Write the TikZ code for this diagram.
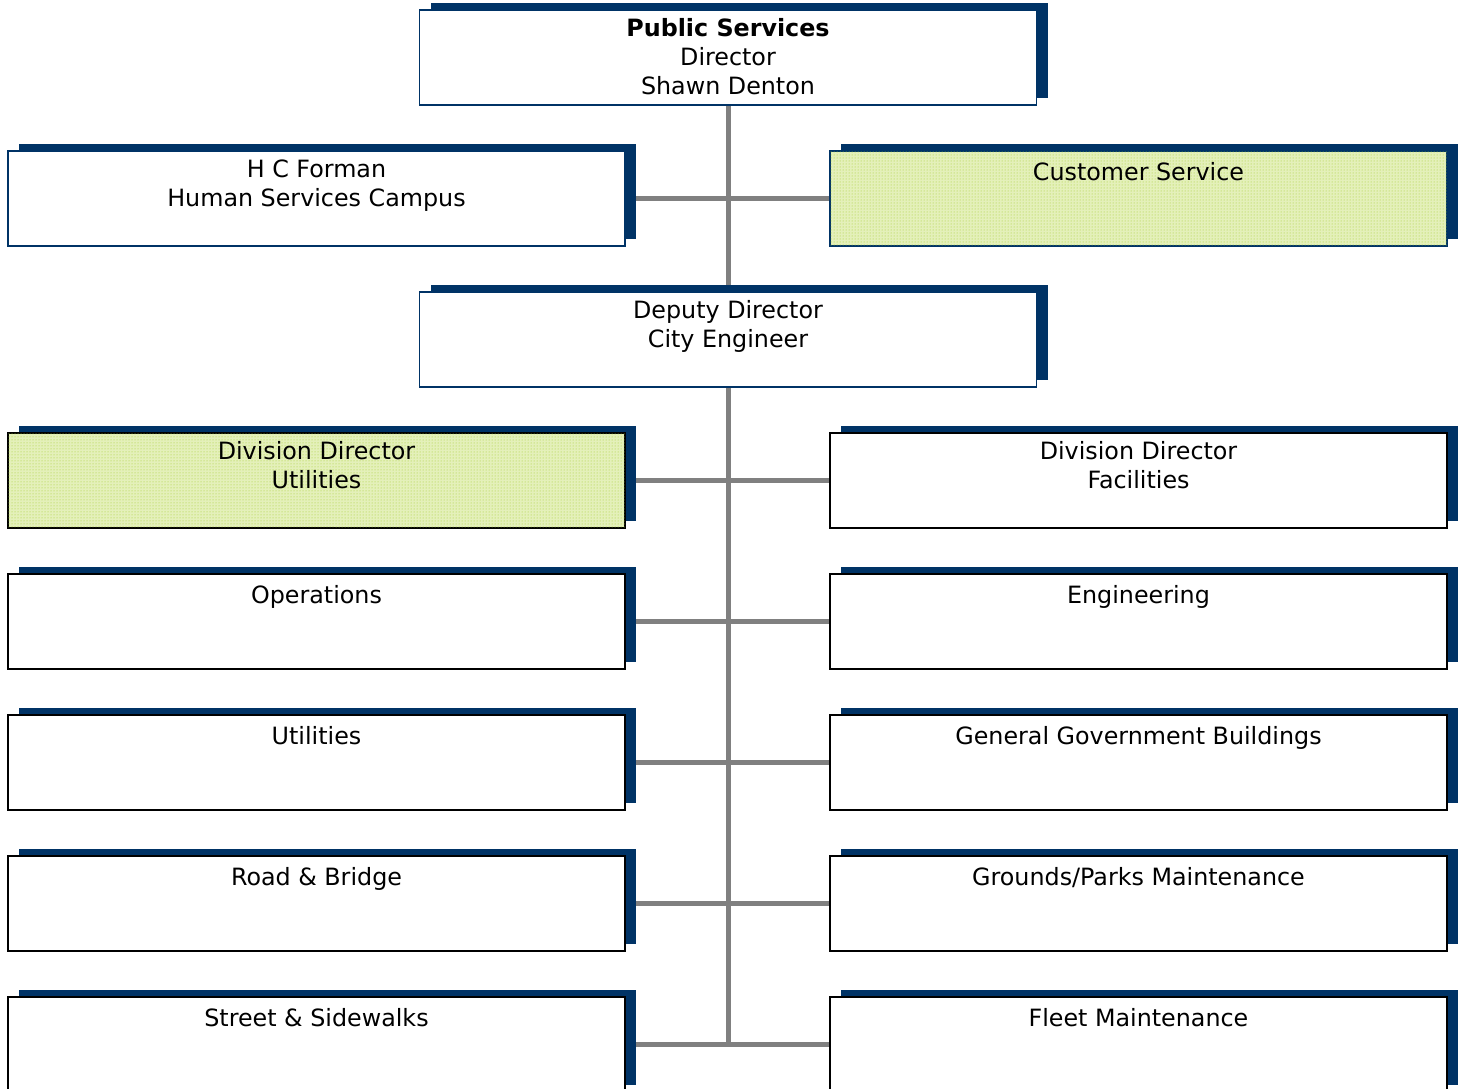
\documentclass[tikz,border=0pt]{standalone}
\usepackage{fontspec}
\setmainfont{DejaVu Sans}
\usetikzlibrary{shadows,patterns,backgrounds}
\definecolor{navy}{RGB}{0,51,102}
\definecolor{connc}{RGB}{128,128,128}
\definecolor{limebg}{RGB}{228,240,186}
\definecolor{limedot}{RGB}{160,204,40}
\begin{document}
\begin{tikzpicture}[x=1pt,y=-1pt,
  box/.style={draw=black, line width=1.5pt, fill=white, minimum width=617pt, minimum height=95pt, inner sep=0pt,
    general shadow={fill=navy, shadow xshift=11pt, shadow yshift=7.5pt}},
  topbox/.style={box, draw=navy, line width=1.3pt},
  hilite/.style={fill=limebg, postaction={pattern=dots, pattern color=limedot}},
  lbl/.style={anchor=north, inner sep=0pt, align=center, font=\fontsize{23.8}{29}\selectfont, yshift=-9pt,
    execute at begin node=\rule{0pt}{21pt}},
  connline/.style={draw=connc, line width=5pt}
]
\useasboundingbox (0,0) rectangle (1465,1088);

% boxes
\node[topbox] (ps) at (728,57.5) {};
\node[topbox] (hc) at (316.5,198.5) {};
\node[topbox, hilite] (cs) at (1138.5,198.5) {};
\node[topbox] (dd) at (728,339.5) {};

\node[box, hilite] (du) at (316.5,480.5) {};
\node[box] (df) at (1138.5,480.5) {};
\node[box] (op) at (316.5,621.5) {};
\node[box] (en) at (1138.5,621.5) {};
\node[box] (ut) at (316.5,762.5) {};
\node[box] (gg) at (1138.5,762.5) {};
\node[box] (rb) at (316.5,903.5) {};
\node[box] (gp) at (1138.5,903.5) {};
\node[box] (ss) at (316.5,1044.5) {};
\node[box] (fm) at (1138.5,1044.5) {};

% labels
\node[lbl] (psT) at (ps.north) {\textbf{Public Services}\\Director\\Shawn Denton};
\node[lbl] (hcT) at (hc.north) {H C Forman\\Human Services Campus};
\node[lbl] (csT) at (cs.north) {Customer Service};
\node[lbl] (ddT) at (dd.north) {Deputy Director\\City Engineer};
\node[lbl] (duT) at (du.north) {Division Director\\Utilities};
\node[lbl] (dfT) at (df.north) {Division Director\\Facilities};
\node[lbl] (opT) at (op.north) {Operations};
\node[lbl] (enT) at (en.north) {Engineering};
\node[lbl] (utT) at (ut.north) {Utilities};
\node[lbl] (ggT) at (gg.north) {General Government Buildings};
\node[lbl] (rbT) at (rb.north) {Road \& Bridge};
\node[lbl] (gpT) at (gp.north) {Grounds/Parks Maintenance};
\node[lbl] (ssT) at (ss.north) {Street \& Sidewalks};
\node[lbl] (fmT) at (fm.north) {Fleet Maintenance};

\coordinate (jEnd) at (728,1044.5);

\begin{scope}[on background layer]
\draw[connline] (ps.south) -- (dd.north);
\draw[connline] (dd.south) -- (jEnd);
\draw[connline] (hc.east) -- (cs.west);
\draw[connline] (du.east) -- (df.west);
\draw[connline] (op.east) -- (en.west);
\draw[connline] (ut.east) -- (gg.west);
\draw[connline] (rb.east) -- (gp.west);
\draw[connline] (ss.east) -- (fm.west);
\end{scope}
\end{tikzpicture}
\end{document}
